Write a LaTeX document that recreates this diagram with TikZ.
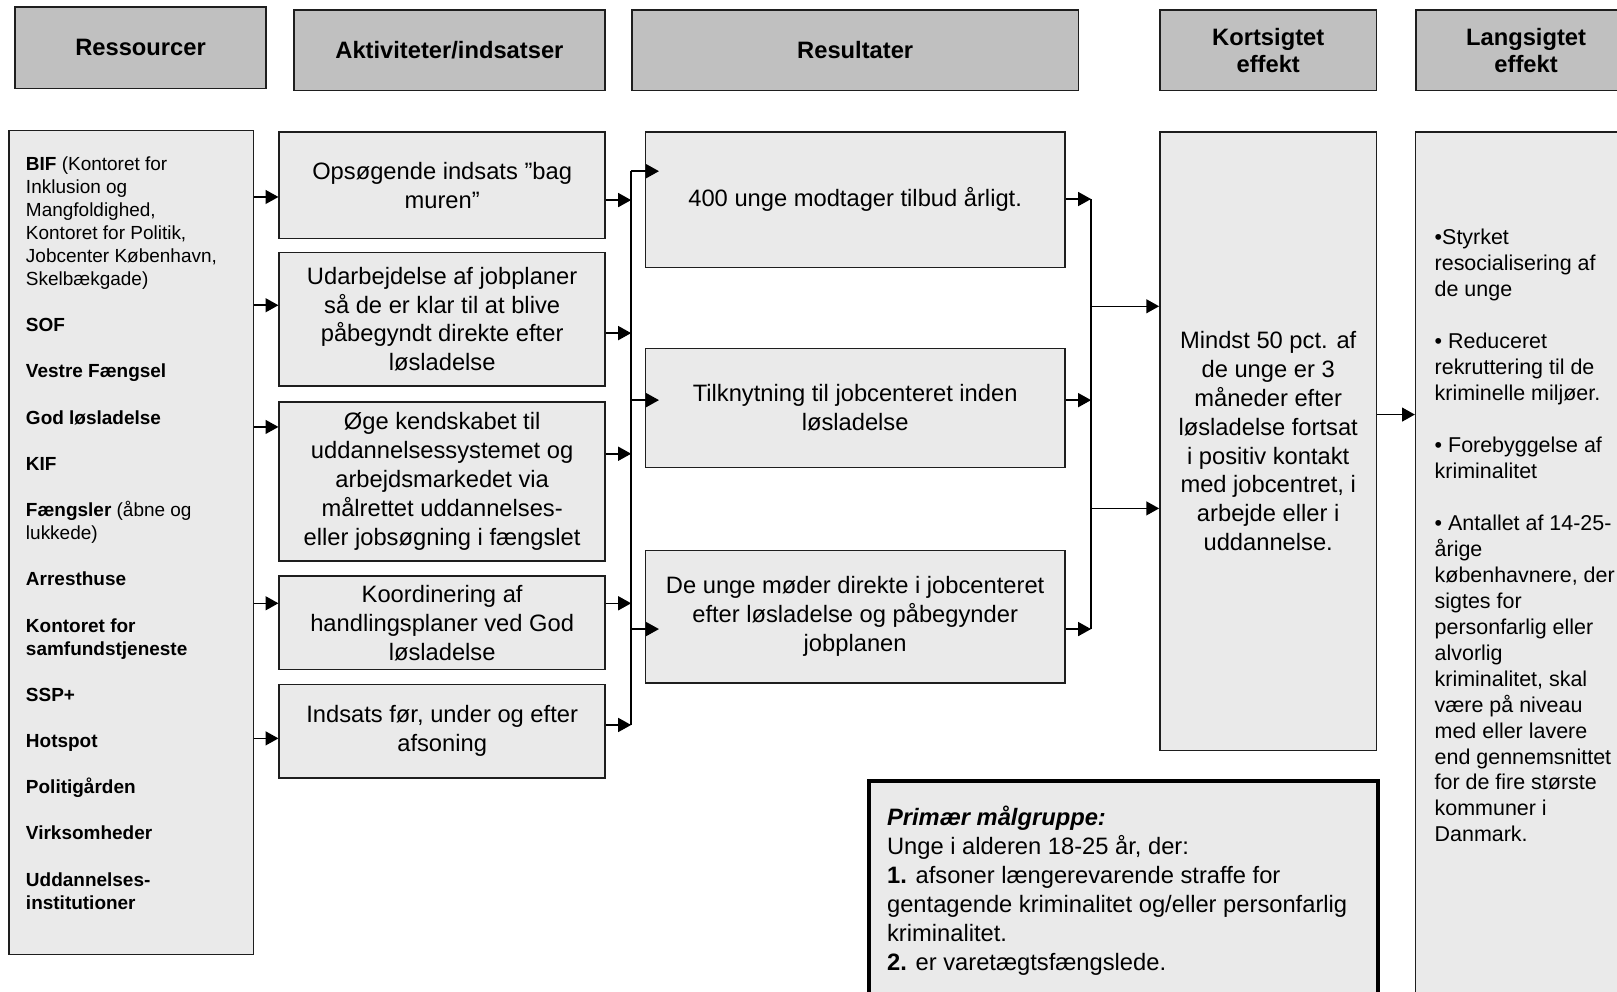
\documentclass[tikz,border=0pt]{standalone}
\usepackage{fontspec}
\setmainfont{Liberation Sans}
\usetikzlibrary{arrows.meta, positioning}
\definecolor{headgray}{HTML}{C0C0C0}
\definecolor{bodygray}{HTML}{EAEAEA}
\definecolor{edge}{HTML}{1E1E1E}

\begin{document}
\begin{tikzpicture}[
    x=1pt, y=-1pt,
    head/.style={draw=edge, line width=1.6pt, fill=headgray, inner sep=0pt,
                 minimum height=78pt, anchor=north west, align=center,
                 font=\fontsize{23}{26}\selectfont\bfseries},
    box/.style={draw=edge, line width=1.5pt, fill=bodygray, inner sep=0pt,
                anchor=north west, align=center,
                font=\fontsize{23}{28}\selectfont},
    actbox/.style={box, minimum width=316pt},
    outbox/.style={box, minimum width=407pt},
    listtext/.style={inner sep=0pt, anchor=north west, align=left,
                     font=\fontsize{18.4}{22.4}\selectfont},
    line/.style={draw=black, line width=1.5pt},
    arrow/.style={line, -{Triangle[length=12.5pt, width=13.5pt]}},
]
    \useasboundingbox (0,0) rectangle (1568,961);
    \clip (0,0) rectangle (1568,961);
    \fill[white] (0,0) rectangle (1568,961);

    % Column headers
    \node[head, minimum width=243pt, minimum height=79pt] (hres) at (14,6) {Ressourcer};
    \node[head, minimum width=302pt] (hact) at (284,9) {Aktiviteter/indsatser};
    \node[head, minimum width=433pt] (hout) at (612,9) {Resultater};
    \node[head, minimum width=210pt] (hshort) at (1124,9) {Kortsigtet\\effekt};
    \node[head, minimum width=214pt] (hlong) at (1372,9) {Langsigtet\\effekt};

    % Resources
    \node[box, minimum width=237pt, minimum height=799pt] (res) at (8,126) {};
    \node[listtext] (reslist) at (25,149) {\strut\textbf{BIF} (Kontoret for\\
        Inklusion og\\ Mangfoldighed,\\ Kontoret for Politik,\\
        Jobcenter København,\\ Skelbækgade)\\[22.4pt]
        \textbf{SOF}\\[22.4pt]
        \textbf{Vestre Fængsel}\\[22.4pt]
        \textbf{God løsladelse}\\[22.4pt]
        \textbf{KIF}\\[22.4pt]
        \textbf{Fængsler} (åbne og\\ lukkede)\\[22.4pt]
        \textbf{Arresthuse}\\[22.4pt]
        \textbf{Kontoret for}\\ \textbf{samfundstjeneste}\\[22.4pt]
        \textbf{SSP+}\\[22.4pt]
        \textbf{Hotspot}\\[22.4pt]
        \textbf{Politigården}\\[22.4pt]
        \textbf{Virksomheder}\\[22.4pt]
        \textbf{Uddannelses-}\\ \textbf{institutioner}};

    % Activities
    \node[actbox, minimum height=103.5pt] (act1) at (270,127) {Opsøgende indsats ”bag\\muren”};
    \node[actbox, minimum height=129.5pt, below=12pt of act1] (act2)
        {Udarbejdelse af jobplaner\\så de er klar til at blive\\påbegyndt direkte efter\\løsladelse};
    \node[actbox, minimum height=154.5pt, below=14pt of act2] (act3)
        {Øge kendskabet til\\uddannelsessystemet og\\arbejdsmarkedet via\\målrettet uddannelses-\\eller jobsøgning i fængslet};
    \node[actbox, minimum height=90.5pt, below=13pt of act3] (act4)
        {Koordinering af\\handlingsplaner ved God\\løsladelse};
    \node[actbox, minimum height=90.5pt, below=13pt of act4] (act5)
        {Indsats før, under og efter\\afsoning};

    % Results
    \node[outbox, minimum height=131.5pt] (out1) at (625,127) {400 unge modtager tilbud årligt.};
    \node[outbox, minimum height=115.5pt, below=77pt of out1] (out2)
        {Tilknytning til jobcenteret inden\\løsladelse};
    \node[outbox, minimum height=128.5pt, below=79pt of out2] (out3)
        {De unge møder direkte i jobcenteret\\efter løsladelse og påbegynder\\jobplanen};

    % Effects
    \node[box, minimum width=210pt, minimum height=600pt] (short) at (1124,127)
        {Mindst 50 pct. af\\de unge er 3\\måneder efter\\løsladelse fortsat\\i positiv kontakt\\med jobcentret, i\\arbejde eller i\\uddannelse.};
    \node[box, minimum width=214pt, minimum height=880pt] (long) at (1372,127) {};
    \node[listtext, font=\fontsize{20.8}{25.2}\selectfont] (longlist) at (1391,219)
        {\strut•Styrket\\ resocialisering af\\ de unge\\[25.2pt]
         • Reduceret\\ rekruttering til de\\ kriminelle miljøer.\\[25.2pt]
         • Forebyggelse af\\ kriminalitet\\[25.2pt]
         • Antallet af 14-25-\\ årige\\ københavnere, der\\ sigtes for\\
         personfarlig eller\\ alvorlig\\ kriminalitet, skal\\ være på niveau\\
         med eller lavere\\ end gennemsnittet\\ for de fire største\\
         kommuner i\\ Danmark.};

    % Target group
    \node[box, draw=black, line width=4pt, minimum width=493pt, minimum height=260pt] (group) at (841,755) {};
    \node[listtext, font=\fontsize{23}{28}\selectfont] (grouptext) at (860,781)
        {\strut\textbf{\textit{Primær målgruppe:}}\\ Unge i alderen 18-25 år, der:\\
         \textbf{1.} afsoner længerevarende straffe for\\
         gentagende kriminalitet og/eller personfarlig\\ kriminalitet.\\
         \textbf{2.} er varetægtsfængslede.};

    % Arrows: resources to activities
    \draw[arrow] (res.east |- 0,191) -- (act1.west |- 0,191);
    \draw[arrow] (res.east |- 0,296) -- (act2.west |- 0,296);
    \draw[arrow] (res.east |- 0,414) -- (act3.west |- 0,414);
    \draw[arrow] (res.east |- 0,585) -- (act4.west |- 0,585);
    \draw[arrow] (res.east |- 0,716) -- (act5.west |- 0,716);

    % Activities to results
    \coordinate (busa) at (612,166);
    \coordinate (busaend) at (612,703);
    \draw[line] (busa) -- (busaend);
    \draw[arrow] (act1.east |- 0,194) -- (busa |- 0,194);
    \draw[arrow] (act2.east |- 0,323) -- (busa |- 0,323);
    \draw[arrow] (act3.east |- 0,440) -- (busa |- 0,440);
    \draw[arrow] (act4.east |- 0,585) -- (busa |- 0,585);
    \draw[arrow] (act5.east |- busaend) -- (busaend);
    \draw[arrow, shorten >=-14pt] (busa) -- (out1.west |- busa);
    \draw[arrow, shorten >=-14pt] (busa |- 0,388) -- (out2.west |- 0,388);
    \draw[arrow, shorten >=-14pt] (busa |- 0,610) -- (out3.west |- 0,610);

    % Results to effects
    \coordinate (busb) at (1058,193);
    \coordinate (busbend) at (1058,610);
    \draw[line] (busb) -- (busbend);
    \draw[arrow] (out1.east |- busb) -- (busb);
    \draw[arrow] (out2.east |- 0,388) -- (busb |- 0,388);
    \draw[arrow] (out3.east |- busbend) -- (busbend);
    \draw[arrow] (busb |- 0,297) -- (short.west |- 0,297);
    \draw[arrow] (busb |- 0,493) -- (short.west |- 0,493);
    \draw[arrow] (short.east |- 0,402) -- (long.west |- 0,402);
\end{tikzpicture}
\end{document}
